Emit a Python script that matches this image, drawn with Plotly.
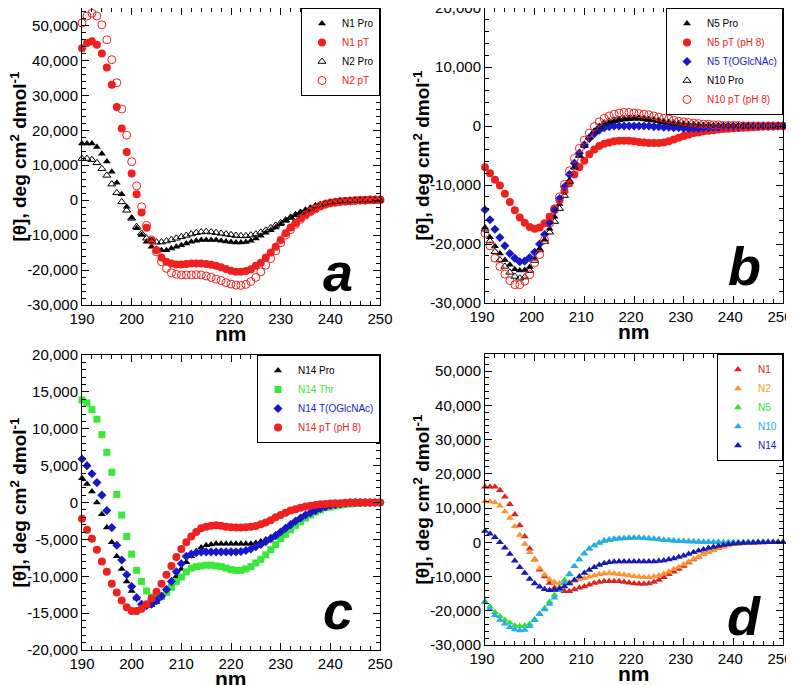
import plotly.graph_objects as go
from plotly.subplots import make_subplots

FONT = "Liberation Sans, Arial, Helvetica, sans-serif"
# the page body keeps its 8px margin, so the figure is drawn 8px in from the corner
OFF = 8
W, H = 794 - OFF, 685 - OFF

# wavelength (nm), one reading per nm
wl = list(range(190, 251))

# panel a
n1_pro = [16200, 16200, 16200, 15200, 13300, 11100, 8100, 5000, 1700, -1900,
          -5000, -8000, -10000, -11900, -13300, -14000, -14300, -14300, -13800, -13300,
          -12900, -12400, -11900, -11600, -11400, -11400, -11400, -11400, -11600, -11800,
          -12000, -12100, -12100, -12000, -11600, -11000, -10200, -9300, -8600, -7800,
          -6900, -5900, -5000, -4300, -3500, -2900, -2300, -1700, -1200, -800,
          -600, -400, -300, -200, -150, -100, -50, 0, 0, 0, 0]
n1_pt = [43500, 45000, 45500, 44500, 42000, 38000, 33000, 26700, 20500, 13800,
         7600, 1700, -3500, -7900, -11600, -14300, -16400, -17600, -18100, -18400,
         -18400, -18300, -18100, -18100, -18100, -18300, -18500, -18800, -19200, -19700,
         -20200, -20500, -20500, -20300, -19800, -18800, -17900, -16400, -15000, -13300,
         -11400, -9500, -7800, -6500, -5200, -4100, -3100, -2400, -1700, -1100,
         -800, -600, -400, -300, -200, -100, 0, 0, 100, 100, 100]
n2_pro = [11900, 11900, 11600, 10700, 9000, 7100, 4600, 2100, -500, -2900,
          -5200, -7600, -9500, -10900, -11700, -12000, -12000, -11700, -11300, -10900,
          -10500, -10100, -9700, -9300, -9100, -9000, -9100, -9300, -9500, -9700,
          -9900, -10100, -10200, -10200, -10000, -9700, -9200, -8600, -7900, -7200,
          -6500, -5700, -4900, -4200, -3500, -2900, -2300, -1700, -1300, -900,
          -600, -400, -300, -200, -150, -100, -50, 0, 0, 0, 0]
n2_pt = [50700, 52700, 53500, 52700, 50200, 45900, 40200, 33600, 26100, 18600,
         11000, 4100, -1900, -7200, -11400, -14800, -17600, -19500, -20800, -21200,
         -21400, -21400, -21400, -21300, -21400, -21700, -22100, -22600, -23000, -23600,
         -24000, -24300, -24400, -24100, -23300, -22100, -20500, -18600, -16700, -14500,
         -12200, -10000, -8400, -6900, -5500, -4300, -3300, -2500, -1700, -1200,
         -800, -600, -400, -300, -200, -100, 0, 0, 100, 100, 100]

# panel b
n5_pro = [-17200, -18850, -20400, -21600, -22700, -23500, -24300, -24500, -24400, -23900,
          -22500, -20800, -19300, -17400, -15400, -13200, -11000, -9200, -7000, -5000,
          -3300, -1900, -900, -200, 300, 600, 800, 1000, 1100, 1200,
          1300, 1300, 1200, 1100, 1000, 800, 700, 600, 400, 300,
          300, 200, 200, 200, 100, 100, 100, 100, 0, 0,
          0, 0, 0, 0, 0, 0, 0, 0, 0, 0, 0]
n5_pt = [-7000, -8000, -9100, -10100, -11500, -12900, -14300, -15500, -16400, -17100,
         -17400, -17200, -16500, -15400, -14000, -12600, -11000, -9700, -8200, -7000,
         -5900, -4800, -4000, -3400, -3000, -2800, -2600, -2500, -2500, -2500,
         -2600, -2700, -2800, -2900, -2900, -2900, -2800, -2600, -2300, -2000,
         -1700, -1500, -1200, -1100, -900, -800, -700, -600, -500, -450,
         -400, -350, -300, -250, -200, -150, -100, -100, -50, 0, 0]
n5_glc = [-14200, -15900, -17500, -18900, -20300, -21600, -22400, -23000, -22900, -22300,
          -21400, -20000, -18400, -16400, -14300, -12300, -10300, -8200, -6300, -4600,
          -3200, -2100, -1300, -700, -300, -100, 0, 0, 0, 0,
          0, 0, 0, 0, -100, -100, -200, -200, -300, -300,
          -400, -400, -400, -400, -300, -300, -200, -200, -100, -100,
          -100, -100, 0, 0, 0, 0, 0, 0, 0, 0, 0]
n10_pro = [-17500, -19500, -21300, -22700, -23800, -24800, -25500, -25800, -25600, -24500,
           -22800, -21000, -19600, -18000, -16200, -14000, -11800, -9400, -7000, -5000,
           -3300, -1900, -900, -100, 500, 800, 1000, 1100, 1200, 1300,
           1300, 1300, 1200, 1100, 1000, 900, 700, 600, 500, 400,
           300, 200, 200, 100, 100, 100, 0, 0, 0, 0,
           0, 0, 0, 0, 0, 0, 0, 0, 0, 0, 0]
n10_pt = [-18200, -20300, -22400, -23800, -25100, -26200, -26900, -26900, -26300, -25200,
          -23200, -21800, -19300, -16500, -14200, -12000, -9900, -7600, -5500, -3800,
          -2400, -1200, -100, 700, 1300, 1700, 2000, 2200, 2300, 2300,
          2200, 2100, 2000, 1900, 1700, 1500, 1300, 1200, 1000, 800,
          700, 600, 500, 400, 300, 300, 200, 200, 100, 100,
          100, 100, 0, 0, 0, 0, 0, 0, 0, 0, 0]

# panel c
n14_pro = [3300, 2500, 1500, 0, -1600, -3400, -5400, -7300, -9000, -10700,
           -12000, -13000, -13700, -14000, -13900, -13500, -12900, -12000, -11000, -10000,
           -9000, -8100, -7300, -6600, -6100, -5800, -5700, -5600, -5600, -5600,
           -5600, -5600, -5600, -5600, -5600, -5500, -5300, -5000, -4700, -4300,
           -3900, -3400, -2900, -2500, -2100, -1700, -1400, -1100, -800, -600,
           -400, -300, -200, -100, -100, 0, 0, 0, 0, 0, 0]
n14_thr = [13900, 13500, 12600, 11300, 9200, 6800, 4100, 1100, -1700, -4600,
           -7000, -9200, -10700, -12000, -12800, -12900, -12700, -12200, -11500, -10700,
           -10100, -9400, -8900, -8700, -8600, -8500, -8500, -8600, -8700, -8900,
           -9100, -9200, -9200, -9000, -8700, -8200, -7700, -7100, -6400, -5700,
           -4900, -4300, -3700, -3100, -2600, -2100, -1700, -1300, -1000, -700,
           -600, -450, -350, -250, -200, -150, -100, -50, 0, 0, 0]
n14_glc = [5900, 5000, 3900, 2700, 1000, -1100, -3400, -5800, -7800, -9800,
           -11400, -12900, -13800, -14000, -13800, -13300, -12700, -11800, -10700, -9400,
           -8300, -7300, -7000, -6800, -6700, -6700, -6700, -6700, -6700, -6700,
           -6700, -6700, -6650, -6500, -6300, -6000, -5700, -5300, -4900, -4500,
           -4000, -3500, -3000, -2500, -2100, -1700, -1400, -1100, -800, -600,
           -400, -300, -200, -100, 0, 0, 0, 0, 0, 0, 0]
n14_pt = [-2200, -3700, -4900, -6400, -8000, -9400, -11000, -12200, -13300, -14200,
          -14700, -14700, -14400, -13800, -13000, -12100, -11000, -9800, -8600, -7400,
          -6300, -5400, -4600, -4000, -3500, -3300, -3150, -3100, -3150, -3300,
          -3350, -3400, -3400, -3350, -3300, -3200, -2950, -2700, -2400, -2000,
          -1700, -1400, -1100, -900, -700, -550, -450, -350, -250, -200,
          -150, -100, -100, -50, 0, 0, 0, 0, 0, 0, 0]

# y tick labels
ticks_a = [-30000, -20000, -10000, 0, 10000, 20000, 30000, 40000, 50000]
ticks_b = [-30000, -20000, -10000, 0, 10000, 20000]
ticks_c = [-20000, -15000, -10000, -5000, 0, 5000, 10000, 15000, 20000]
x_ticks = [190, 200, 210, 220, 230, 240, 250]


def lab(v):
    return f"{v:,}"


def px(x):
    return min(1.0, max(0.0, (x - OFF) / W))


def py(y):
    return min(1.0, max(0.0, 1 - (y - OFF) / H))


RED = "#ee2020"
BLUE = "#1818c8"
GREEN = "#3ae83a"


def pt(x, y, name, color, symbol, size, legend, open_=False):
    mk = dict(symbol=symbol, size=size, color=color)
    if open_:
        mk["line"] = dict(color=color, width=1)
    else:
        mk["line"] = dict(width=0)
    return go.Scatter(x=x, y=y, mode="markers", marker=mk, cliponaxis=False,
                      name=f"<span style='color:{color}'>{name}</span>", legend=legend)


fig = make_subplots(rows=2, cols=2)

panel_a = [
    (n1_pro, "N1 Pro", "black", "triangle-up", 7, False),
    (n1_pt, "N1 pT", RED, "circle", 8, False),
    (n2_pro, "N2 Pro", "black", "triangle-up-open", 7, True),
    (n2_pt, "N2 pT", RED, "circle-open", 8, True),
]
for y, nm, c, s, sz, op in panel_a:
    fig.add_trace(pt(wl, y, nm, c, s, sz, "legend", open_=op), row=1, col=1)

panel_b = [
    (n5_pro, "N5 Pro", "black", "triangle-up", 7, False),
    (n5_pt, "N5 pT (pH 8)", RED, "circle", 8, False),
    (n5_glc, "N5 T(OGlcNAc)", BLUE, "diamond", 7, False),
    (n10_pro, "N10 Pro", "black", "triangle-up-open", 7, True),
    (n10_pt, "N10 pT (pH 8)", RED, "circle-open", 8, True),
]
for y, nm, c, s, sz, op in panel_b:
    fig.add_trace(pt(wl, y, nm, c, s, sz, "legend2", open_=op), row=1, col=2)

panel_c = [
    (n14_pro, "N14 Pro", "black", "triangle-up", 7),
    (n14_thr, "N14 Thr", GREEN, "square", 7),
    (n14_glc, "N14 T(OGlcNAc)", BLUE, "diamond", 7),
    (n14_pt, "N14 pT (pH 8)", RED, "circle", 8),
]
for y, nm, c, s, sz in panel_c:
    fig.add_trace(pt(wl, y, nm, c, s, sz, "legend3"), row=2, col=1)

panel_d = [
    (n1_pro, "N1", "#dd2222"),
    (n2_pro, "N2", "#ff9530"),
    (n5_pro, "N5", "#30e030"),
    (n10_pro, "N10", "#28aaee"),
    (n14_pro, "N14", "#1a1ab0"),
]
for y, nm, c in panel_d:
    fig.add_trace(pt(wl, y, nm, c, "triangle-up", 7, "legend4"), row=2, col=2)

# plot boxes in page pixels: (left, right, top, bottom)
boxes = {
    1: (82, 380, 8, 305),
    2: (485, 783, 8, 303),
    3: (82, 380, 355, 650),
    4: (485, 783, 354, 645),
}
yranges = {1: [-30000, 55000], 2: [-30000, 20000], 3: [-20000, 20000], 4: [-30000, 55000]}
yticks = {1: ticks_a, 2: ticks_b, 3: ticks_c, 4: ticks_a}
yminor = {1: 2000, 2: 2000, 3: 1000, 4: 2000}

axis_common = dict(
    ticks="inside", ticklen=7, tickwidth=1, tickcolor="black",
    showline=True, linecolor="black", linewidth=1, mirror="allticks",
    showgrid=False, zeroline=False, automargin=False, ticklabeloverflow="allow",
    tickfont=dict(size=15, family=FONT, color="black"),
)

for i, (l, r, t, b) in boxes.items():
    sfx = "" if i == 1 else str(i)
    # right-hand column: nudge the x labels so "250" stays inside the page
    shift = -3 if i in (2, 4) else 0
    fig.layout["xaxis" + sfx].update(
        domain=[px(l), px(r)], range=[190, 250],
        tickvals=x_ticks, ticktext=[str(v) for v in x_ticks], ticklabelshift=shift,
        minor=dict(dtick=2, tick0=190, ticks="inside", ticklen=4, tickcolor="black", showgrid=False),
        **axis_common)
    fig.layout["yaxis" + sfx].update(
        domain=[py(b), py(t)], range=yranges[i],
        tickvals=yticks[i], ticktext=[lab(v) for v in yticks[i]],
        minor=dict(dtick=yminor[i], tick0=0, ticks="inside", ticklen=4, tickcolor="black", showgrid=False),
        **axis_common)

leg_common = dict(bordercolor="black", borderwidth=1, bgcolor="white",
                  font=dict(size=10, family=FONT, color="black"),
                  xanchor="right", yanchor="top", itemwidth=30, tracegroupgap=0)
fig.update_layout(
    legend=dict(x=px(380), y=py(8), **leg_common),
    legend2=dict(x=px(783), y=py(8), **leg_common),
    legend3=dict(x=px(380), y=py(355), **leg_common),
    legend4=dict(x=px(783), y=py(354), **leg_common),
)

ytitle = "<b>[θ], deg cm<sup>2</sup> dmol<sup>-1</sup></b>"
annos = []
letters = {1: ("a", 338, 272), 2: ("b", 744, 266), 3: ("c", 338, 610), 4: ("d", 744, 616)}
centre = dict(xref="paper", yref="paper", showarrow=False, xanchor="center", yanchor="middle")
for i, (l, r, t, b) in boxes.items():
    annos.append(dict(text=ytitle, textangle=-90, x=px(l - 64), y=py((t + b) / 2),
                      font=dict(size=19, family=FONT, color="black"), **centre))
    annos.append(dict(text="<b>nm</b>", x=px((l + r) / 2), y=py(b + 28),
                      font=dict(size=21, family=FONT, color="black"), **centre))
    ch, cx, cy = letters[i]
    annos.append(dict(text=f"<b><i>{ch}</i></b>", x=px(cx), y=py(cy),
                      font=dict(size=54, family=FONT, color="black"), **centre))

fig.update_layout(
    width=W, height=H,
    margin=dict(l=0, r=0, t=0, b=0, autoexpand=False),
    paper_bgcolor="white", plot_bgcolor="white",
    annotations=annos,
    showlegend=True,
)

fig.write_html("out.html")
